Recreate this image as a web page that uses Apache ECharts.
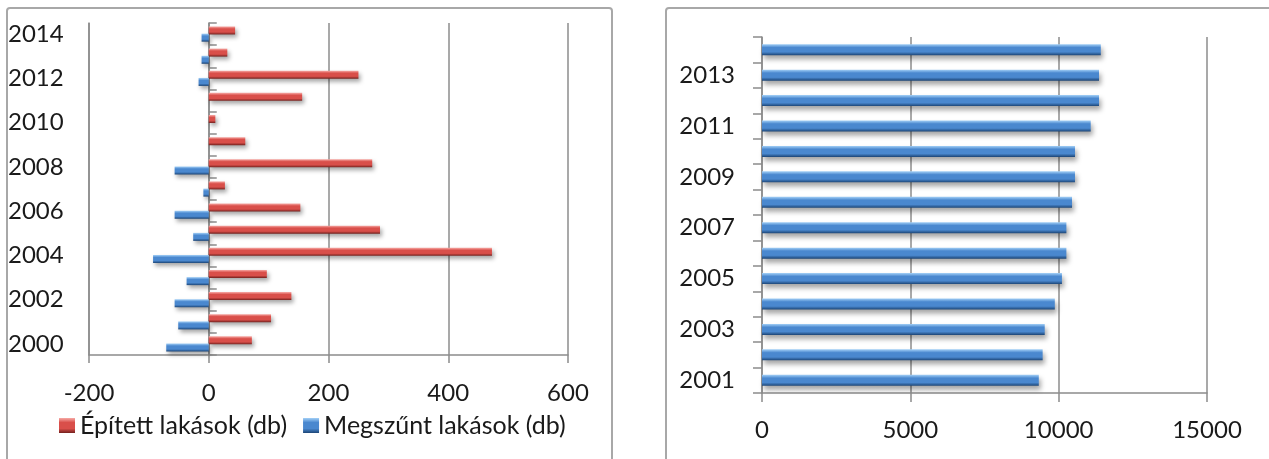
<!DOCTYPE html>
<html>
<head>
<meta charset="utf-8">
<script src="https://cdn.jsdelivr.net/npm/echarts@6/dist/echarts.min.js"></script>
<style>
  html, body { margin: 0; padding: 0; background: #fff; }
  #chart { width: 1269px; height: 459px; }
</style>
</head>
<body>
<div id="chart"></div>
<script>
// bal oldali diagram: épített / megszűnt lakások
var yearsLeft = ['2000', '2001', '2002', '2003', '2004', '2005', '2006', '2007',
  '2008', '2009', '2010', '2011', '2012', '2013', '2014'];
var built = [72, 104, 138, 97, 473, 286, 153, 27, 273, 61, 11, 156, 250, 31, 44];
var demolished = [-71, -51, -57, -37, -93, -26, -57, -9, -57, 0, 0, 0, -17, -12, -12];
var leftTicks = { min: -200, max: 600, interval: 200 };

// jobb oldali diagram: lakásállomány
var yearsRight = ['2001', '2002', '2003', '2004', '2005', '2006', '2007',
  '2008', '2009', '2010', '2011', '2012', '2013', '2014'];
var stock = [9330, 9460, 9530, 9870, 10110, 10260, 10260, 10450, 10550, 10550,
  11080, 11360, 11360, 11420];
var rightTicks = { min: 0, max: 15000, interval: 5000 };

var FONT = 'Lato';
var FS = 24;
var gridColor = '#8c8c8c';
var textColor = '#1a1a1a';

// 3D-s hatású színátmenet a sávokhoz
function bar3d(light, mid, dark) {
  return new echarts.graphic.LinearGradient(0, 0, 0, 1, [
    { offset: 0, color: light },
    { offset: 0.3, color: mid },
    { offset: 0.7, color: mid },
    { offset: 1, color: dark }
  ]);
}
var redFill = bar3d('#f7aaa6', '#d94f4a', '#74211e');
var blueFill = bar3d('#a3d0f7', '#4a88cf', '#1c4576');

var chart = echarts.init(document.getElementById('chart'), null, { renderer: 'canvas' });

var option = {
  backgroundColor: '#fff',
  animation: false,
  textStyle: { fontFamily: FONT },
  graphic: [
    { type: 'rect', silent: true, z: -1,
      shape: { x: 7, y: 8, width: 605, height: 470, r: 3 },
      style: { fill: 'none', stroke: '#a8a8a8', lineWidth: 2 } },
    { type: 'rect', silent: true, z: -1,
      shape: { x: 666, y: 8, width: 640, height: 470, r: 3 },
      style: { fill: 'none', stroke: '#a8a8a8', lineWidth: 2 } }
  ],
  legend: {
    left: 54,
    top: 408,
    itemWidth: 16,
    itemHeight: 15,
    itemGap: 16,
    icon: 'rect',
    textStyle: { fontFamily: FONT, fontSize: 25, color: textColor },
    data: ['Épített lakások (db)', 'Megszűnt lakások (db)']
  },
  grid: [
    { left: 89, top: 23, width: 479, height: 332 },
    { left: 762, top: 37, width: 445, height: 356 }
  ],
  xAxis: [
    {
      gridIndex: 0, type: 'value',
      min: leftTicks.min, max: leftTicks.max, interval: leftTicks.interval,
      axisLine: { show: true, onZero: false, lineStyle: { color: gridColor, width: 1.5 } },
      axisTick: { show: true, length: 8, lineStyle: { color: gridColor, width: 1.5 } },
      splitLine: { show: true, lineStyle: { color: gridColor, width: 1.5 } },
      axisLabel: { margin: 26, fontSize: FS, fontFamily: FONT, color: textColor }
    },
    {
      gridIndex: 1, type: 'value',
      min: rightTicks.min, max: rightTicks.max, interval: rightTicks.interval,
      axisLine: { show: true, onZero: false, lineStyle: { color: gridColor, width: 1.5 } },
      axisTick: { show: true, length: 9, lineStyle: { color: gridColor, width: 1.5 } },
      splitLine: { show: true, lineStyle: { color: gridColor, width: 1.5 } },
      axisLabel: { margin: 25, fontSize: FS, fontFamily: FONT, color: textColor,
        formatter: function (v) { return String(v); } }
    }
  ],
  yAxis: [
    { // feliratok a bal szélen
      gridIndex: 0, type: 'category', data: yearsLeft,
      axisLine: { show: true, onZero: false, lineStyle: { color: gridColor, width: 1.5 } },
      axisTick: { show: false },
      axisLabel: { interval: 1, align: 'left', margin: 81, fontSize: FS, fontFamily: FONT, color: textColor }
    },
    { // tengely a nullánál, osztásokkal
      gridIndex: 0, type: 'category', data: yearsLeft,
      axisLine: { show: true, onZero: true, lineStyle: { color: gridColor, width: 1.5 } },
      axisTick: { show: true, interval: 0, length: 8, lineStyle: { color: gridColor, width: 1.5 } },
      axisLabel: { show: false }
    },
    {
      gridIndex: 1, type: 'category', data: yearsRight,
      axisLine: { show: true, lineStyle: { color: gridColor, width: 1.5 } },
      axisTick: { show: true, interval: 0, length: 9, lineStyle: { color: gridColor, width: 1.5 } },
      axisLabel: { interval: 1, margin: 27, fontSize: FS, fontFamily: FONT, color: textColor }
    }
  ],
  series: [
    {
      name: 'Épített lakások (db)', type: 'bar',
      xAxisIndex: 0, yAxisIndex: 0,
      data: built,
      barWidth: 8, barGap: '-10%',
      itemStyle: { color: redFill, shadowColor: 'rgba(0,0,0,0.35)', shadowBlur: 4, shadowOffsetX: 2, shadowOffsetY: 3 }
    },
    {
      name: 'Megszűnt lakások (db)', type: 'bar',
      xAxisIndex: 0, yAxisIndex: 0,
      data: demolished,
      barWidth: 8,
      itemStyle: { color: blueFill, shadowColor: 'rgba(0,0,0,0.35)', shadowBlur: 4, shadowOffsetX: 2, shadowOffsetY: 3 }
    },
    {
      name: 'Lakásállomány', type: 'bar',
      xAxisIndex: 1, yAxisIndex: 2,
      data: stock,
      barWidth: 11,
      itemStyle: { color: blueFill, shadowColor: 'rgba(0,0,0,0.35)', shadowBlur: 5, shadowOffsetX: 2, shadowOffsetY: 4 }
    }
  ]
};

chart.setOption(option);
</script>
</body>
</html>
